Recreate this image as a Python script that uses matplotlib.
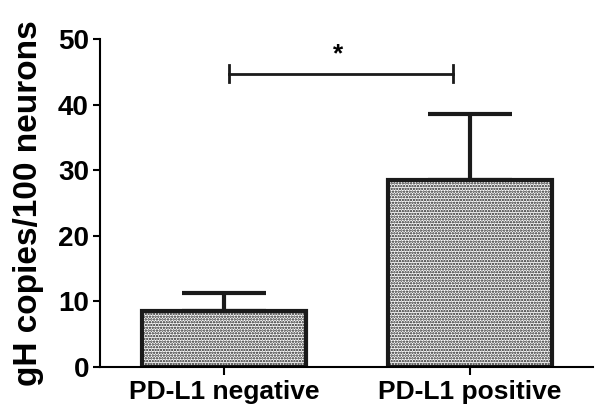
import numpy as np
import matplotlib
matplotlib.use('Agg')
import matplotlib.pyplot as plt

plt.rc('font', **{'family': 'sans-serif', 'sans-serif': ['Liberation Sans', 'DejaVu Sans'], 'weight': 'bold'})
matplotlib.rcParams['hatch.linewidth'] = 1.15
matplotlib.rcParams['hatch.color'] = '#111111'

# data
groups = ['PD-L1 negative', 'PD-L1 positive']
means = [8.5, 28.5]
sem = [2.8, 10.1]
sig_label = '*'
sig_y = 44.7
yticks = [0, 10, 20, 30, 40, 50]

fig = plt.figure(figsize=(6.01, 4.15), dpi=100)
ax = fig.add_axes([100/601, 1-367/415, 493/601, 328/415])

x = np.arange(len(groups))
ax.bar(x, means, width=0.667, color='white', edgecolor='#1a1a1a', linewidth=3,
       hatch='......', zorder=2)
ax.errorbar(x, means, yerr=[np.zeros(len(sem)), sem], fmt='none', ecolor='#1a1a1a',
            elinewidth=3, capsize=30, capthick=3, zorder=1)

# significance bracket
ax.plot([0.02, 0.93], [sig_y, sig_y], color='#1a1a1a', lw=2)
ax.plot([0.02, 0.02], [sig_y - 1.3, sig_y + 1.3], color='#1a1a1a', lw=2)
ax.plot([0.93, 0.93], [sig_y - 1.3, sig_y + 1.3], color='#1a1a1a', lw=2)
ax.text(0.465, sig_y + 1.2, sig_label, ha='center', va='bottom', fontsize=19, fontweight='bold')

ax.set_xlim(-0.504, 1.5)
ax.set_ylim(0, 50)
ax.set_yticks(yticks)
ax.set_xticks(x)
ax.set_xticklabels(groups, fontsize=19, fontweight='bold')
ax.tick_params(axis='y', labelsize=20, width=1.5, length=5, direction='out', pad=3)
ax.tick_params(axis='x', width=1.5, length=6, direction='out', pad=3)
for t in ax.get_yticklabels():
    t.set_fontweight('bold')
ax.set_ylabel('gH copies/100 neurons', fontsize=24, fontweight='bold', labelpad=10)
ax.spines['top'].set_visible(False)
ax.spines['right'].set_visible(False)
ax.spines['left'].set_linewidth(1.5)
ax.spines['bottom'].set_linewidth(1.5)

fig.savefig('out.png', dpi=100)
